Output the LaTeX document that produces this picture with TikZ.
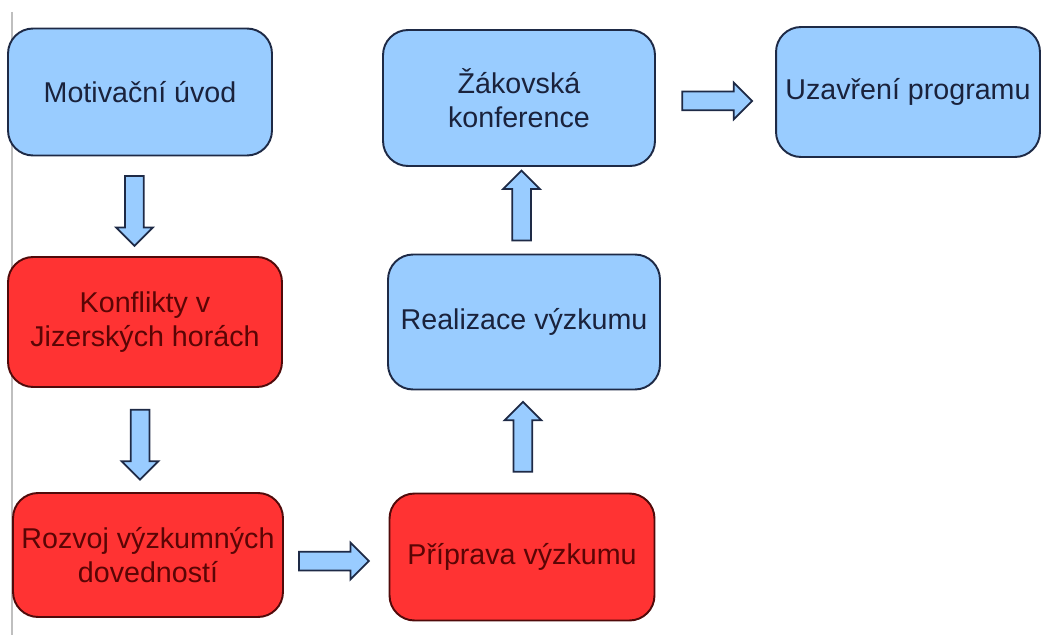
\documentclass[tikz,border=0pt]{standalone}
\usepackage{fontspec}
\setmainfont{Liberation Sans}
\usetikzlibrary{shapes.arrows}

\definecolor{boxblue}{RGB}{153,204,255}
\definecolor{blueline}{RGB}{30,42,70}
\definecolor{bluetext}{RGB}{26,34,60}
\definecolor{boxred}{RGB}{255,51,51}
\definecolor{redline}{RGB}{80,10,10}
\definecolor{redtext}{RGB}{90,5,5}

\tikzset{
  box/.style={draw, line width=1.1pt, rounded corners=0.5cm, align=center,
    inner sep=0pt, font=\fontsize{16.3}{19.3}\selectfont},
  bluebox/.style={box, fill=boxblue, draw=blueline, text=bluetext},
  redbox/.style={box, fill=boxred, draw=redline, text=redtext},
  blockarrow/.style={single arrow, draw=blueline, fill=boxblue, line width=1pt,
    inner sep=0.17cm, minimum height=1.4cm,
    single arrow head extend=0.18cm}
}

\begin{document}
\begin{tikzpicture}[x=0.02cm, y=-0.02cm]
\useasboundingbox (0,0) rectangle (1041,635);
%\draw[help lines, step=50] (0,0) grid (1041,635);
\draw[gray!50, line width=0.6pt] (12,12) -- (12,635);

\node[bluebox, minimum width=5.28cm, minimum height=2.54cm] (motivace) at (140,92) {Motivační úvod};
\node[redbox, minimum width=5.48cm, minimum height=2.6cm] (konflikty) at (145,322) {Konflikty v\\Jizerských horách};
\node[redbox, minimum width=5.4cm, minimum height=2.48cm] (rozvoj) at (148,555) {Rozvoj výzkumných\\dovedností};
\node[redbox, minimum width=5.3cm, minimum height=2.54cm] (priprava) at (522,557) {Příprava výzkumu};
\node[bluebox, minimum width=5.44cm, minimum height=2.7cm] (realizace) at (524,322) {Realizace výzkumu};
\node[bluebox, minimum width=5.44cm, minimum height=2.72cm] (konference) at (519,98) {Žákovská\\konference};
\node[bluebox, minimum width=5.28cm, minimum height=2.6cm] (zaver) at (908,92) {Uzavření programu};

\path (motivace) -- node[blockarrow, shape border rotate=270, xshift=-0.16cm] {} (konflikty);
\path (konflikty) -- node[blockarrow, shape border rotate=270, xshift=-0.13cm] {} (rozvoj);
\path (rozvoj) -- node[blockarrow, xshift=-0.14cm, yshift=-0.1cm] {} (priprava);
\path (priprava) -- node[blockarrow, shape border rotate=90] {} (realizace);
\path (realizace) -- node[blockarrow, shape border rotate=90] {} (konference);
\path (konference) -- node[blockarrow, xshift=-0.06cm, yshift=-0.12cm] {} (zaver);
\end{tikzpicture}
\end{document}
